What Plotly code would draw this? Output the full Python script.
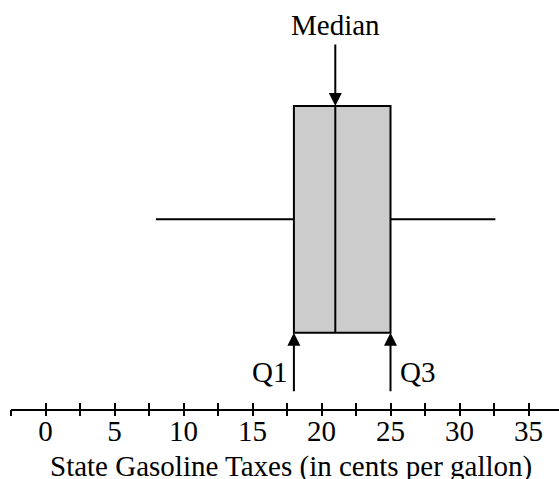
import plotly.graph_objects as go

# Five-number summary (cents per gallon)
lower_whisker = [8.0]
q1 = [18.0]
median = [21.0]
q3 = [25.0]
upper_whisker = [32.6]

tick_values = [-2.5 + 2.5 * i for i in range(16)]
tick_labels = [str(int(v)) if v >= 0 and v % 5 == 0 else "" for v in tick_values]

axis_title = "State Gasoline Taxes (in cents per gallon)"
FONT = "Liberation Serif"
FS = 29

W, H = 559, 479
L, B = 11, 70
PLOT_H = H - B  # plotting height in px; y axis uses pixel-like units

box_center = PLOT_H - 219.3
box_width = 226.7
box_top = box_center + box_width / 2
box_bottom = box_center - box_width / 2

fig = go.Figure()
fig.add_trace(go.Box(
    orientation="h",
    y=[box_center],
    q1=q1, median=median, q3=q3,
    lowerfence=lower_whisker, upperfence=upper_whisker,
    width=box_width,
    whiskerwidth=0,
    fillcolor="#cccccc",
    line=dict(color="black", width=2),
    boxpoints=False,
    hoverinfo="skip",
    showlegend=False,
))

txt = dict(family=FONT, size=FS, color="black")
annotations = [
    # Median arrow and label
    dict(x=median[0], y=box_top, xref="x", yref="y", ax=0, ay=-63, text="",
         showarrow=True, arrowhead=2, arrowsize=1.3, arrowwidth=2, arrowcolor="black", standoff=0),
    dict(x=median[0], y=PLOT_H - 25, xref="x", yref="y", text="Median", showarrow=False,
         font=txt, xanchor="center", yanchor="middle"),
    # Q1 arrow and label
    dict(x=q1[0], y=box_bottom, xref="x", yref="y", ax=0, ay=60, text="",
         showarrow=True, arrowhead=2, arrowsize=1.3, arrowwidth=2, arrowcolor="black", standoff=0),
    dict(x=q1[0], y=PLOT_H - 372, xref="x", yref="y", text="Q1", showarrow=False, xshift=-5,
         font=txt, xanchor="right", yanchor="middle"),
    # Q3 arrow and label
    dict(x=q3[0], y=box_bottom, xref="x", yref="y", ax=0, ay=60, text="",
         showarrow=True, arrowhead=2, arrowsize=1.3, arrowwidth=2, arrowcolor="black", standoff=0),
    dict(x=q3[0], y=PLOT_H - 372, xref="x", yref="y", text="Q3", showarrow=False, xshift=7,
         font=txt, xanchor="left", yanchor="middle"),
    # Axis title
    dict(x=(291 - L) / (W - L), y=(PLOT_H - 466) / PLOT_H, xref="paper", yref="paper",
         text=axis_title, showarrow=False, font=txt, xanchor="center", yanchor="middle"),
]

x_range = [-2.5, -2.5 + (W - L) / 13.8]

fig.update_layout(
    width=W, height=H,
    margin=dict(l=L, r=0, t=0, b=B, autoexpand=False),
    paper_bgcolor="white", plot_bgcolor="white",
    showlegend=False,
    annotations=annotations,
    xaxis=dict(
        range=x_range, tickmode="array", tickvals=tick_values, ticktext=tick_labels,
        showline=True, linecolor="black", linewidth=2,
        ticks="inside", ticklen=6, tickwidth=1.5, tickcolor="black",
        ticklabelstandoff=-5,
        showgrid=False, zeroline=False, automargin=False,
        tickfont=txt,
        fixedrange=True,
    ),
    xaxis2=dict(
        range=x_range, overlaying="x", anchor="y", side="bottom",
        tickmode="array", tickvals=tick_values, showticklabels=False,
        ticks="outside", ticklen=6, tickwidth=1.5, tickcolor="black",
        showline=False, showgrid=False, zeroline=False,
    ),
    yaxis=dict(range=[0, PLOT_H], visible=False, fixedrange=True),
)

# invisible trace so the overlay axis is drawn
fig.add_trace(go.Scatter(x=x_range, y=[None, None], xaxis="x2", yaxis="y",
                         mode="lines", showlegend=False, hoverinfo="skip"))

fig.write_html("out.html", config={"displayModeBar": False},
               post_script="document.body.style.margin='0';document.body.style.padding='0';")
